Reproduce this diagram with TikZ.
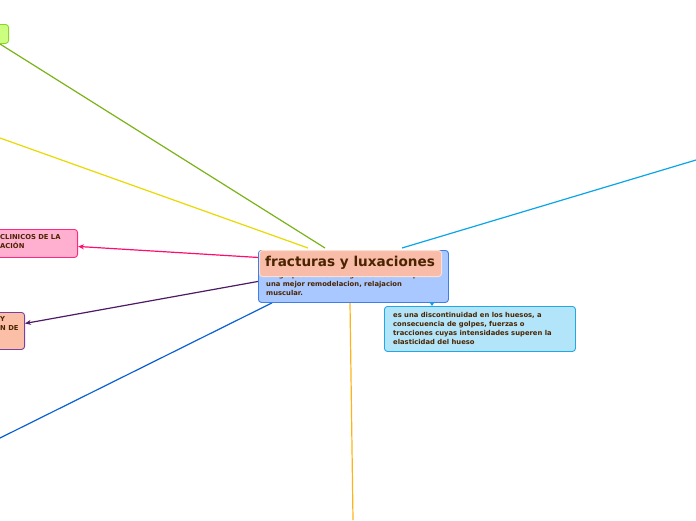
\documentclass[tikz,border=0pt]{standalone}
\usepackage{fontspec}
\setmainfont{DejaVu Sans}
\usetikzlibrary{arrows.meta,backgrounds,calc}
\definecolor{txtbrown}{HTML}{4A2400}
\definecolor{greenln}{HTML}{7AB317}
\definecolor{greenfill}{HTML}{CCFF80}
\definecolor{greenbd}{HTML}{8FD12E}
\definecolor{yellowln}{HTML}{E8D900}
\definecolor{pinkln}{HTML}{FF0D6E}
\definecolor{pinkfill}{HTML}{FFB0D0}
\definecolor{pinkbd}{HTML}{FF2A80}
\definecolor{purpleln}{HTML}{4D1A66}
\definecolor{salmonfill}{HTML}{FBBFA8}
\definecolor{purplebd}{HTML}{7B3FA0}
\definecolor{blueln}{HTML}{0A62D0}
\definecolor{orangeln}{HTML}{FFB31A}
\definecolor{cyanln}{HTML}{0AA5E6}
\definecolor{mainfill}{HTML}{A8C8FF}
\definecolor{mainbd}{HTML}{3D7EE8}
\definecolor{titlefill}{HTML}{F8BCA8}
\definecolor{titlebd}{HTML}{FDE0D4}
\definecolor{cyanfill}{HTML}{B2E5FA}
\definecolor{cyanbd}{HTML}{22A8E6}
\tikzset{
  conn/.style={line width=1.2pt},
  box/.style={rectangle, rounded corners=3pt, line width=0.9pt, inner sep=0pt},
  smalltxt/.style={font=\bfseries\fontsize{6.8}{8.9}\selectfont, text=txtbrown, align=left, inner sep=0pt},
  tip/.style={-{Stealth[length=6pt,width=5pt]}}
}
\begin{document}
\begin{tikzpicture}[x=1pt,y=1pt]
\useasboundingbox (0,0) rectangle (696,-520);
% boxes
\node[box, fill=greenfill, draw=greenbd, minimum width=20, minimum height=19, anchor=north east] (green) at (9,-24) {};
\node[box, fill=pinkfill, draw=pinkbd, minimum width=90, minimum height=28, anchor=north east] (pink) at (78,-229) {};
\node[smalltxt, anchor=north west] (pinktxt) at (0,-234) {CLINICOS DE LA\\ACIÓN};
\node[box, fill=salmonfill, draw=purplebd, minimum width=40, minimum height=37, anchor=north east] (salmon) at (25,-312) {};
\node[smalltxt, anchor=north west] (salmontxt) at (0,-316) {Y\\N DE};
\node[box, fill=mainfill, draw=mainbd, minimum width=190, minimum height=52, anchor=north west] (main) at (258,-250) {};
\node[smalltxt, anchor=north west] (maintxt) at (266,-272) {reagrupacion del colageno en cicatriz para\\una mejor remodelacion, relajacion\\muscular.};
\node[box, fill=titlefill, draw=titlebd, line width=1pt, minimum width=182, minimum height=26, anchor=north west] (title) at (259,-250) {};
\node[font=\bfseries\fontsize{13.6}{15}\selectfont, text=txtbrown, inner sep=0pt] (titletxt) at (350,-263) {fracturas y luxaciones};
\node[box, fill=cyanfill, draw=cyanbd, minimum width=191, minimum height=45, anchor=north west] (cyanbox) at (384,-306) {};
\node[smalltxt, anchor=north west] (cyantxt) at (393,-312) {es una discontinuidad en los huesos, a\\consecuencia de golpes, fuerzas o\\tracciones cuyas intensidades superen la\\elasticidad del hueso};
% free ends
\coordinate (gEnd) at (0,-44);
\coordinate (yEnd) at (0,-138);
\coordinate (bEnd) at (0,-438);
\coordinate (oEnd) at (353,-520);
\coordinate (cEnd) at (696,-160);
\begin{scope}[on background layer]
\draw[conn, greenln] (gEnd) -- ($(main.north west)+(67,2)$);
\draw[conn, yellowln] (yEnd) -- ($(main.north west)+(50,2)$);
\draw[conn, blueln] (bEnd) -- ($(main.south west)+(14,0)$);
\draw[conn, orangeln] (oEnd) -- ($(main.south west)+(92,0)$);
\draw[conn, cyanln] (cEnd) -- ($(main.north west)+(144,2)$);
\draw[conn, pinkln, tip] ($(main.west)+(0,19)$) -- ($(pink.east)+(0,-3)$);
\draw[conn, purpleln, tip] ($(main.west)+(0,-5)$) -- ($(salmon.east)+(0,7.5)$);
\end{scope}
\draw[conn, cyanln, -{Stealth[length=4pt,width=5pt]}] ($(main.south west)+(174,0)$) -- ($(cyanbox.north west)+(48,0)$);
\end{tikzpicture}
\end{document}
